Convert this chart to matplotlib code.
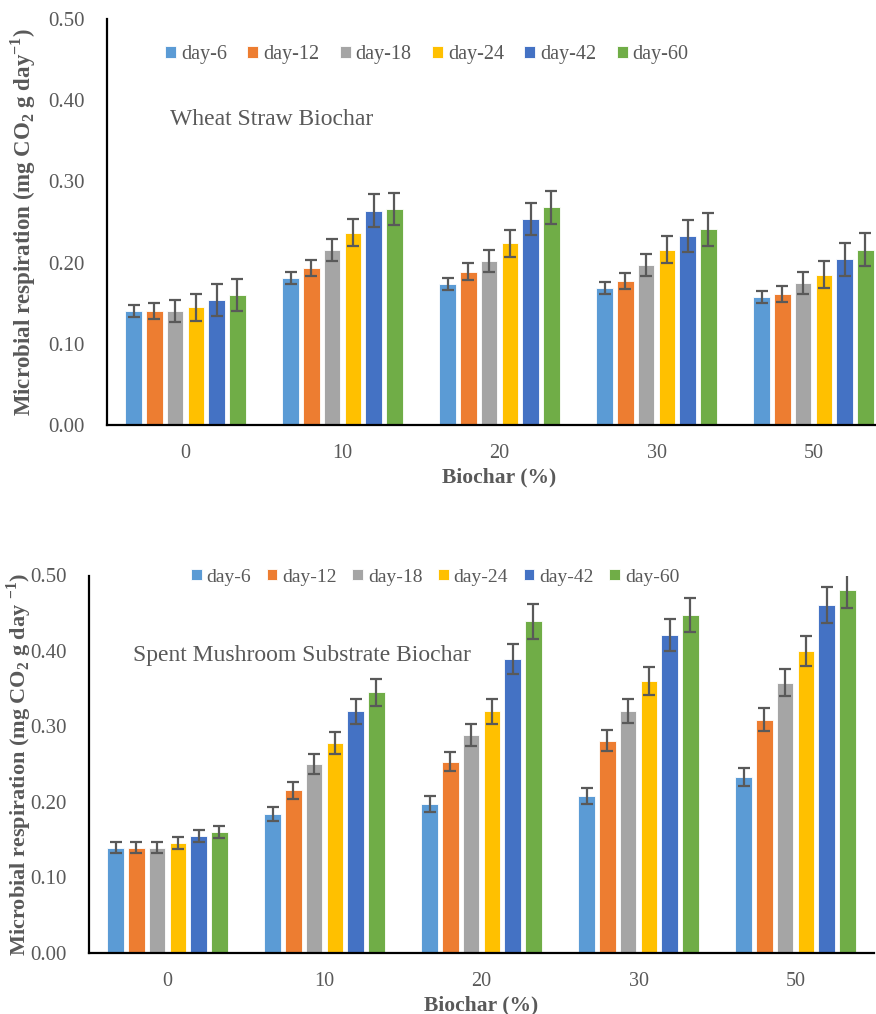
import numpy as np
import matplotlib
matplotlib.use("Agg")
import matplotlib.pyplot as plt

plt.rcParams['font.family'] = ['Liberation Serif', 'DejaVu Serif']
plt.rcParams['mathtext.fontset'] = 'custom'
plt.rcParams['mathtext.rm'] = 'Liberation Serif'
plt.rcParams['mathtext.bf'] = 'Liberation Serif:bold'

# data
biochar = ['0', '10', '20', '30', '50']
days = ['day-6', 'day-12', 'day-18', 'day-24', 'day-42', 'day-60']
colors = ['#5B9BD5', '#ED7D31', '#A5A5A5', '#FFC000', '#4472C4', '#70AD47']

wheat_day6 = [0.140, 0.181, 0.174, 0.169, 0.158]
wheat_day12 = [0.140, 0.193, 0.189, 0.177, 0.161]
wheat_day18 = [0.140, 0.216, 0.202, 0.197, 0.175]
wheat_day24 = [0.145, 0.237, 0.224, 0.216, 0.185]
wheat_day42 = [0.154, 0.264, 0.254, 0.233, 0.204]
wheat_day60 = [0.160, 0.266, 0.268, 0.241, 0.216]
wheat_err = [0.0075, 0.010, 0.0135, 0.0165, 0.020, 0.020]

sms_day6 = [0.139, 0.184, 0.197, 0.208, 0.233]
sms_day12 = [0.139, 0.215, 0.253, 0.281, 0.309]
sms_day18 = [0.139, 0.250, 0.289, 0.320, 0.358]
sms_day24 = [0.145, 0.278, 0.320, 0.360, 0.400]
sms_day42 = [0.154, 0.320, 0.389, 0.421, 0.461]
sms_day60 = [0.160, 0.345, 0.439, 0.448, 0.481]
sms_err6 = [0.0073, 0.0093, 0.010, 0.0104, 0.012]
sms_err12 = [0.0073, 0.0113, 0.0126, 0.0139, 0.0157]
sms_err18 = [0.0073, 0.0128, 0.0146, 0.016, 0.018]
sms_err24 = [0.008, 0.0144, 0.0164, 0.0184, 0.020]
sms_err42 = [0.008, 0.0164, 0.0195, 0.021, 0.0235]
sms_err60 = [0.008, 0.0177, 0.0226, 0.0226, 0.0243]

wheat = [wheat_day6, wheat_day12, wheat_day18, wheat_day24, wheat_day42, wheat_day60]
wheat_errs = [[e] * len(biochar) for e in wheat_err]
sms = [sms_day6, sms_day12, sms_day18, sms_day24, sms_day42, sms_day60]
sms_errs = [sms_err6, sms_err12, sms_err18, sms_err24, sms_err42, sms_err60]

grey = '#595959'
W, H = 876, 1014
fig = plt.figure(figsize=(W / 100, H / 100), dpi=100)


def panel(rect, series, errs, title, title_xy, ylabel, ylab_x, ylab_size,
          leg_xy, leg_size, leg_space):
    ax = fig.add_axes(rect)
    x = np.arange(len(biochar))
    slot = 0.132
    for i, (vals, err) in enumerate(zip(series, errs)):
        pos = x + (i - 2.5) * slot
        ax.bar(pos, vals, width=slot * 0.8, color=colors[i], label=days[i],
               edgecolor='white', linewidth=0.6)
        ax.errorbar(pos, vals, yerr=err, fmt='none', ecolor=grey,
                    elinewidth=1.6, capsize=4.5, capthick=1.6)
    ax.set_xlim(-0.5, len(biochar) - 0.5)
    ax.set_ylim(0, 0.5)
    ax.set_yticks(np.arange(0, 0.51, 0.1))
    ax.set_yticklabels(['%.2f' % v for v in np.arange(0, 0.51, 0.1)],
                       fontsize=15, color=grey)
    ax.set_xticks(x)
    ax.set_xticklabels(biochar, fontsize=14.5, color=grey)
    ax.tick_params(axis='y', length=0, pad=16)
    ax.tick_params(axis='x', length=0, pad=14)
    for s in ['top', 'right']:
        ax.spines[s].set_visible(False)
    for s in ['left', 'bottom']:
        ax.spines[s].set_linewidth(1.6)
        ax.spines[s].set_color('black')
    ax.set_xlabel('Biochar (%)', fontsize=15.5, fontweight='bold', color=grey,
                  labelpad=3)
    ax.set_ylabel(ylabel, fontsize=ylab_size, fontweight='bold', color=grey,
                  va='center', ha='center')
    ax.yaxis.set_label_coords((ylab_x - rect[0] * W) / (rect[2] * W), 0.5)
    fig.text(title_xy[0] / W, 1 - title_xy[1] / H, title, fontsize=17,
             color=grey, va='center', ha='left')
    ax.legend(loc='center left', bbox_to_anchor=(leg_xy[0] / W, 1 - leg_xy[1] / H),
              bbox_transform=fig.transFigure, ncol=6, frameon=False,
              borderaxespad=0, borderpad=0,
              fontsize=leg_size, labelcolor=grey, handlelength=0.55,
              handleheight=0.55, handletextpad=0.25, columnspacing=leg_space)
    return ax


top_rect = [107 / W, 1 - 425 / H, 785 / W, 406 / H]
bot_rect = [89 / W, 1 - 952.5 / H, 785 / W, 377 / H]

panel(top_rect, wheat, wheat_errs, 'Wheat Straw Biochar', (170, 120),
      r'Microbial respiration (mg CO$_\mathbf{2}$ g day$^\mathbf{-1}$)',
      23, 16.5, (165, 55), 14.5, 1.0)
panel(bot_rect, sms, sms_errs, 'Spent Mushroom Substrate Biochar', (133, 656),
      r'Microbial respiration (mg CO$_\mathbf{2}$ g day $^\mathbf{-1}$)',
      19, 16, (191, 577), 14, 0.8)

fig.savefig('out.png', dpi=100)
